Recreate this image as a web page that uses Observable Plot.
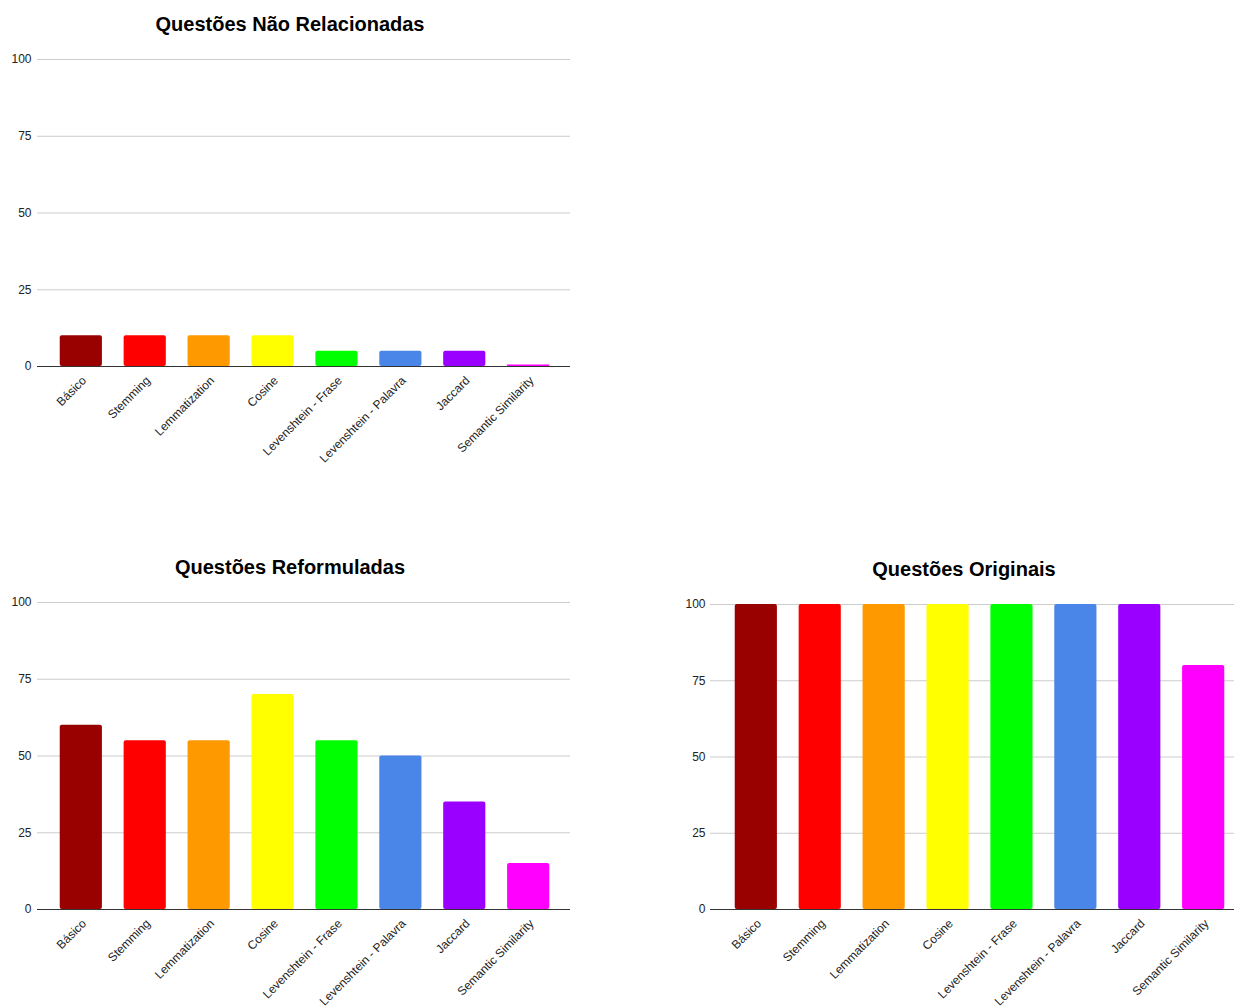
<!DOCTYPE html>
<html>
<head>
<meta charset="utf-8">
<script src="https://cdn.jsdelivr.net/npm/d3@7"></script>
<script src="https://cdn.jsdelivr.net/npm/@observablehq/plot@0.6"></script>
<style>
  html, body { margin: 0; padding: 0; background: #fff; }
  #page { position: relative; width: 1234px; height: 1007px; overflow: hidden; font-family: "Liberation Sans", Arial, sans-serif; }
  .title { position: absolute; font-weight: bold; font-size: 20px; line-height: 20px; color: #000; text-align: center; white-space: nowrap; }
  .chart { position: absolute; overflow: visible; }
</style>
</head>
<body>
<div id="page"></div>
<script>
const categories = ["Básico", "Stemming", "Lemmatization", "Cosine", "Levenshtein - Frase", "Levenshtein - Palavra", "Jaccard", "Semantic Similarity"];
const colors = ["#990000", "#ff0000", "#ff9900", "#ffff00", "#00ff00", "#4a86e8", "#9900ff", "#ff00ff"];
const yTicks = [0, 25, 50, 75, 100];

const naoRelacionadas = [10, 10, 10, 10, 5, 5, 5, 0];
const reformuladas = [60, 55, 55, 70, 55, 50, 35, 15];
const originais = [100, 100, 100, 100, 100, 100, 100, 80];

const page = document.getElementById("page");

function addTitle(text, cx, top) {
  const d = document.createElement("div");
  d.className = "title";
  d.textContent = text;
  d.style.left = (cx - 300) + "px";
  d.style.width = "600px";
  d.style.top = top + "px";
  page.appendChild(d);
}

function addChart(values, opts) {
  const data = categories.map((c, i) => ({cat: c, value: values[i]}));
  const chart = Plot.plot({
    width: opts.width,
    height: opts.height,
    marginLeft: opts.marginLeft,
    marginRight: opts.marginRight,
    marginTop: opts.marginTop,
    marginBottom: opts.marginBottom,
    style: {fontFamily: "'Liberation Sans', Arial, sans-serif", fontSize: "12px", color: "#222", background: "transparent", overflow: "visible"},
    x: {domain: categories, range: opts.xRange, padding: 0.34, round: false, label: null},
    y: {domain: [0, 100], label: null},
    color: {domain: categories, range: colors},
    marks: [
      Plot.gridY(yTicks, {stroke: "#cccccc", strokeOpacity: 1}),
      Plot.axisY(yTicks, {tickSize: 0, tickPadding: opts.tickPadding, label: null, fontSize: 12}),
      Plot.barY(data, {x: "cat", y: "value", fill: "cat", rx: 2}),
      Plot.tickY(data.filter(d => d.value === 0), {x: "cat", y: "value", stroke: "cat", strokeWidth: 2, dy: -1}),
      Plot.ruleY([0], {stroke: "#333333", strokeWidth: 1}),
      Plot.axisX({tickRotate: -45, tickSize: 0, tickPadding: 12, dx: 3, label: null, fontSize: 12})
    ]
  });
  chart.classList.add("chart");
  chart.style.left = opts.left + "px";
  chart.style.top = opts.top + "px";
  page.appendChild(chart);
}

addTitle("Questões Não Relacionadas", 290, 14);
addChart(naoRelacionadas, {left: 0, top: 0, width: 590, height: 480, marginLeft: 37, marginRight: 20, marginTop: 59, marginBottom: 114, xRange: [38, 571], tickPadding: 6});

addTitle("Questões Reformuladas", 290, 557);
addChart(reformuladas, {left: 0, top: 500, width: 590, height: 507, marginLeft: 37, marginRight: 20, marginTop: 102, marginBottom: 98, xRange: [38, 571], tickPadding: 6});

addTitle("Questões Originais", 964, 559);
addChart(originais, {left: 660, top: 500, width: 574, height: 507, marginLeft: 50, marginRight: 0, marginTop: 104, marginBottom: 98, xRange: [53, 586], tickPadding: 5});
</script>
</body>
</html>
